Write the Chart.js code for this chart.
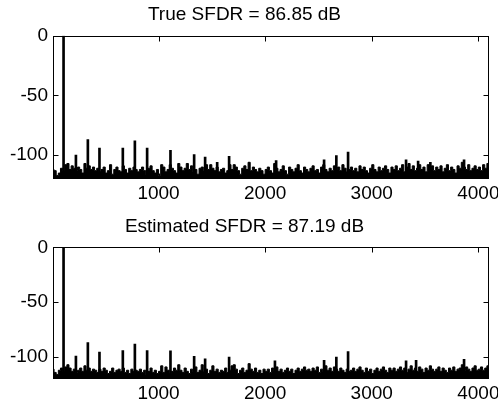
<!DOCTYPE html>
<html>
<head>
<meta charset="utf-8">
<script src="https://cdn.jsdelivr.net/npm/chart.js@4/dist/chart.umd.min.js"></script>
<style>
body{margin:0;background:#fff;}
#wrap{position:relative;width:498px;height:406px;}
#wrap canvas{position:absolute;left:0;top:0;}
</style>
</head>
<body>
<div id="wrap">
<canvas id="trueChart" width="498" height="406"></canvas>
<canvas id="estChart" width="498" height="406"></canvas>
</div>
<script>

/* DATA */

const binHz = 20;
const xTicks = [1000,2000,3000,4000];
const yTicks = [-100,-50,0];

// noise floor, one value per 20 Hz bin (0 .. 4100 Hz)
const trueNoise = [
-112,-113,-117,-115,-111,-113,-108,-107,-112,-109,-111,-113,-110,-112,-115,-107,-111,-109,-112,-110,
-113,-111,-114,-112,-110,-115,-113,-108,-116,-112,-110,-113,-114,-109,-112,-115,-111,-113,-110,-112,
-114,-112,-110,-113,-116,-111,-109,-113,-115,-112,-117,-108,-110,-114,-112,-108,-111,-113,-115,-107,
-110,-113,-111,-107,-112,-109,-114,-112,-116,-111,-110,-113,-108,-112,-108,-111,-113,-110,-114,-112,
-111,-115,-113,-108,-112,-108,-110,-113,-116,-111,-109,-112,-106,-113,-110,-112,-114,-111,-113,-116,
-112,-110,-113,-115,-107,-111,-114,-112,-109,-113,-116,-110,-112,-114,-111,-108,-113,-115,-110,-112,
-114,-111,-109,-113,-112,-115,-110,-108,-112,-114,-111,-113,-109,-112,-110,-113,-108,-111,-114,-112,
-110,-113,-111,-114,-109,-112,-110,-113,-115,-111,-108,-112,-114,-110,-113,-111,-109,-112,-115,-110,
-112,-109,-113,-111,-108,-114,-110,-107,-112,-109,-113,-111,-108,-112,-110,-114,-108,-111,-109,-113,
-110,-112,-109,-114,-111,-108,-113,-110,-112,-115,-109,-111,-106,-110,-112,-108,-113,-111,-109,-112,
-110,-113,-108,-111,-107,-109
];

const estNoise = [
-111,-114,-116,-112,-110,-113,-109,-107,-110,-113,-111,-114,-112,-110,-113,-108,-112,-110,-113,-111,
-112,-114,-111,-113,-110,-112,-115,-113,-110,-114,-112,-111,-113,-110,-114,-112,-115,-111,-113,-112,
-113,-111,-114,-112,-116,-113,-110,-114,-112,-115,-113,-108,-114,-109,-112,-115,-113,-110,-112,-107,
-112,-114,-110,-113,-115,-111,-113,-109,-114,-112,-107,-113,-111,-115,-112,-108,-113,-111,-114,-112,
-113,-110,-114,-112,-108,-107,-111,-115,-112,-110,-114,-112,-106,-111,-113,-110,-114,-112,-115,-111,
-113,-111,-114,-110,-112,-109,-113,-111,-114,-112,-110,-113,-111,-115,-112,-110,-113,-111,-109,-112,
-111,-113,-110,-112,-109,-114,-111,-113,-108,-112,-110,-113,-109,-111,-113,-110,-112,-114,-111,-113,
-112,-110,-113,-111,-109,-112,-114,-110,-113,-111,-115,-112,-110,-113,-111,-109,-112,-114,-110,-112,
-110,-113,-111,-109,-112,-110,-114,-111,-108,-112,-110,-113,-109,-111,-114,-110,-112,-108,-111,-113,
-111,-109,-113,-110,-112,-114,-110,-112,-109,-113,-111,-110,-107,-112,-109,-111,-113,-110,-108,-112,
-111,-109,-112,-110,-108,-110
];

// tones and spurs: frequency (Hz) and level (dB)
const trueSpurHz = [109,225,337,446,665,778,893,1112,1334,1437,1550,1662,2103,2553,2668,2778,3322,3435,3550,3866];
const trueSpurDb = [0,-100,-86.9,-94,-94,-88,-94,-96,-99.5,-101.7,-106,-101,-104.5,-104,-100.3,-97.5,-104,-105,-106,-104];

const estSpurHz = [109,225,337,446,665,778,893,1112,1334,1437,1662,2092,2553,2668,2778,3322,3416,3866];
const estSpurDb = [0,-99,-86.7,-95.5,-94,-88.2,-94,-94.3,-99.4,-101.5,-100,-103.4,-103,-100,-95,-103.4,-103,-102];


/* HELPERS */

const font = {family:'"Liberation Sans", Arial, Helvetica, sans-serif', size:19, weight:'normal'};

// box round the axes with inward tick marks on all four sides
const boxTicks = {
id:"boxTicks",
afterDraw(chart){
const ctx = chart.ctx;
const a = chart.chartArea;
const x = chart.scales.x, y = chart.scales.y;
const l = Math.round(a.left)+0.5, r = Math.round(a.right)-0.5;
const t = Math.round(a.top)+0.5, b = Math.round(a.bottom)-0.5;
ctx.save();
ctx.strokeStyle = "#000";
ctx.lineWidth = 1;
ctx.strokeRect(l,t,r-l,b-t);
ctx.beginPath();
xTicks.forEach(v=>{
const px = Math.round(x.getPixelForValue(v))+0.5;
ctx.moveTo(px,t); ctx.lineTo(px,t+5);
ctx.moveTo(px,b); ctx.lineTo(px,b-5);
});
yTicks.forEach(v=>{
const py = Math.round(y.getPixelForValue(v))+0.5;
ctx.moveTo(l,py); ctx.lineTo(l+5,py);
ctx.moveTo(r,py); ctx.lineTo(r-5,py);
});
ctx.stroke();
ctx.restore();
}
};

function makeChart(id, title, noise, spurHz, spurDb, pad){
return new Chart(
document.getElementById(id),
{
type:"line",
data:{
datasets:[
{
type:"bar",
data:spurHz.map((f,i)=>({x:f,y:[-120,spurDb[i]]})),
backgroundColor:"#000",
barThickness:2,
order:0
},
{
data:noise.map((v,i)=>({x:i*binHz,y:v})),
borderColor:"#000",
borderWidth:1,
backgroundColor:"#000",
fill:"start",
stepped:true,
pointRadius:0,
order:1
}
]
},
options:{
responsive:false,
animation:false,
devicePixelRatio:1,
layout:{padding:pad},
plugins:{
legend:{display:false},
tooltip:{enabled:false},
title:{
display:true,
text:title,
color:"#000",
font:font,
padding:{top:3,bottom:title.startsWith("True")?10:9}
}
},
scales:{
x:{
type:"linear",
min:10,
max:4100,
offset:false,
grid:{display:false,offset:false,drawTicks:false},
border:{display:false},
afterBuildTicks:s=>{s.ticks = xTicks.map(v=>({value:v}));},
afterFit:s=>{s.height = 24; s.paddingLeft = 0; s.paddingRight = 0;},
ticks:{color:"#000",font:font,padding:3,maxRotation:0,callback:v=>String(v)}
},
y:{
type:"linear",
min:-120,
max:0,
grid:{display:false,drawTicks:false},
border:{display:false},
afterBuildTicks:s=>{s.ticks = yTicks.map(v=>({value:v}));},
afterFit:s=>{s.width = 53; s.paddingTop = 0; s.paddingBottom = 0;},
ticks:{color:"#000",font:font,padding:5,callback:v=>String(v)}
}
}
},
plugins:[boxTicks]
}
);
}


/* CHARTS */

makeChart("trueChart","True SFDR = 86.85 dB",trueNoise,trueSpurHz,trueSpurDb,{top:0,left:0,right:9,bottom:203});
makeChart("estChart","Estimated SFDR = 87.19 dB",estNoise,estSpurHz,estSpurDb,{top:212.6,left:0,right:9,bottom:3});

</script>
</body>
</html>
